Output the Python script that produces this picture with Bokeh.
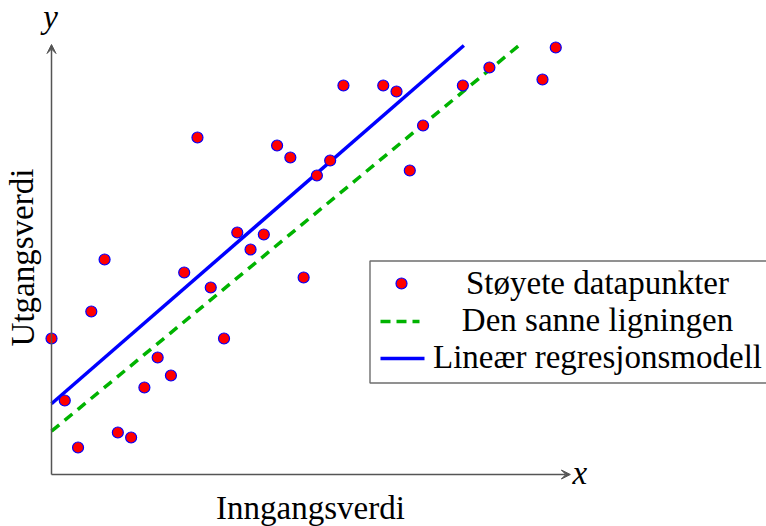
from bokeh.plotting import figure
from bokeh.models import Range1d, Arrow, VeeHead
from bokeh.core.properties import value
from bokeh.embed import file_html
from bokeh.resources import INLINE

# Noisy observations (input index, output value)
x_points = [0, 1, 2, 3, 4, 5, 6, 7, 8, 9, 10, 11, 12, 13, 14, 15, 16, 17, 18, 19,
            20, 21, 22, 25, 26, 27, 28, 31, 33, 37, 38]
y_points = [13.6, 7.4, 2.7, 16.3, 21.5, 4.2, 3.7, 8.7, 11.7, 9.9, 20.2, 33.7, 18.7,
            13.6, 24.2, 22.5, 24.0, 32.9, 31.7, 19.7, 29.9, 31.4, 38.9, 38.9, 38.3,
            30.4, 34.9, 38.9, 40.7, 39.5, 42.7]

# True relation and fitted regression model: y = slope * x + intercept
true_slope, true_intercept = 1.095, 4.33
fit_slope, fit_intercept = 1.153, 7.07

# Axis extents
x_axis_max = 39.1
y_axis_max = 42.9

legend_labels = ["Støyete datapunkter", "Den sanne ligningen", "Lineær regresjonsmodell"]
x_label = "Inngangsverdi"
y_label = "Utgangsverdi"

# Layout (pixels)
W, H = 766, 526
X0_PX, Y0_PX = 51, 474          # where the axes meet
PX_PER_X, PX_PER_Y = 13.27, 10.0

SERIF = "Liberation Serif"
FONT_SIZE = "33px"
AX_COLOR = "#555555"
RED = "#ff0000"
BLUE = "#0000ff"
GREEN = "#00b300"

p = figure(width=W, height=H, output_backend="svg", toolbar_location=None,
           x_axis_location=None, y_axis_location=None, min_border=0,
           x_range=Range1d(-X0_PX / PX_PER_X, (W - X0_PX) / PX_PER_X),
           y_range=Range1d(-(H - Y0_PX) / PX_PER_Y, Y0_PX / PX_PER_Y))
p.grid.visible = False
p.outline_line_color = None
p.background_fill_color = "white"
p.border_fill_color = "white"

# pixel-space ranges for labels and the legend box
p.extra_x_ranges = {"px": Range1d(0, W)}
p.extra_y_ranges = {"px": Range1d(H, 0)}

# Axes with arrow heads
p.add_layout(Arrow(x_start=0, y_start=0, x_end=x_axis_max, y_end=0,
                   line_color=AX_COLOR, line_width=1.5,
                   end=VeeHead(size=9, line_color=AX_COLOR, fill_color=AX_COLOR, line_width=1)))
p.add_layout(Arrow(x_start=0, y_start=0, x_end=0, y_end=y_axis_max + 0.1,
                   line_color=AX_COLOR, line_width=1.5,
                   end=VeeHead(size=9, line_color=AX_COLOR, fill_color=AX_COLOR, line_width=1)))

# Lines, cut where they reach the top of the y axis
true_end = (y_axis_max - true_intercept) / true_slope
fit_end = (y_axis_max - fit_intercept) / fit_slope
p.line([0, true_end], [true_intercept, true_slope * true_end + true_intercept],
       line_color=GREEN, line_width=3.5, line_dash="10 7")
p.line([0, fit_end], [fit_intercept, fit_slope * fit_end + fit_intercept],
       line_color=BLUE, line_width=3.5)

# Data points
p.scatter(x_points, y_points, size=11, fill_color=RED, line_color=BLUE, line_width=1.2)

# Axis labels
def label(x, y, txt, align="center", angle=0.0, style="normal"):
    p.text(x=x, y=y, text=txt, text_font=value(SERIF), text_font_style=style,
           text_font_size=value(FONT_SIZE), text_align=align, text_baseline="alphabetic",
           angle=angle, text_color="black", x_range_name="px", y_range_name="px")

label([310], [507], [x_label])
label([22], [257], [y_label], angle=1.5708)
label([50], [16], ["y"], style="italic")
label([572], [472], ["x"], align="left", style="italic")

# Legend box
p.quad(left=[369.5], right=[800], top=[260.5], bottom=[382.5], fill_color="white",
       line_color="#6e6e6e", line_width=1.4, x_range_name="px", y_range_name="px")
p.scatter([401], [283], size=11, fill_color=RED, line_color=BLUE, line_width=1.2,
          x_range_name="px", y_range_name="px")
p.line([380, 419], [321, 321], line_color=GREEN, line_width=3.5, line_dash="10 6",
       x_range_name="px", y_range_name="px")
p.line([380, 424], [358, 358], line_color=BLUE, line_width=3.5,
       x_range_name="px", y_range_name="px")
label([597, 597, 597], [282, 319, 356], legend_labels)

open("out.html", "w").write(file_html(p, INLINE))
